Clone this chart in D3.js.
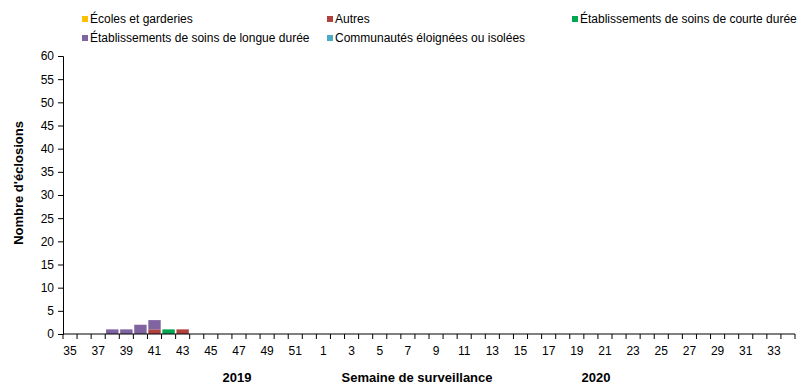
<!DOCTYPE html>
<html>
<head>
<meta charset="utf-8">
<script src="https://cdn.jsdelivr.net/npm/d3@7"></script>
<style>
  body { margin: 0; background: #fff; }
  text { font-family: "Liberation Sans", Arial, sans-serif; fill: #000; }
</style>
</head>
<body>
<div class="chart"></div>
<script>
// surveillance weeks: 2019 wk 35-52, then 2020 wk 1-34
var weeks = [];
for (var w = 35; w <= 52; w++) weeks.push("2019-" + w);
for (var w = 1; w <= 34; w++) weeks.push("2020-" + w);

var seriesNames = ["Écoles et garderies", "Autres", "Établissements de soins de courte durée",
                   "Établissements de soins de longue durée", "Communautés éloignées ou isolées"];
var seriesColors = ["#FFC000", "#B0413E", "#00A650", "#8064A2", "#4BACC6"];

// outbreak counts by week (only non-zero weeks)
var ecoles = {};
var autres = {"2019-41": 1, "2019-43": 1};
var courte = {"2019-42": 1};
var longue = {"2019-38": 1, "2019-39": 1, "2019-40": 2, "2019-41": 2};
var communautes = {};

var yTicks = [0, 5, 10, 15, 20, 25, 30, 35, 40, 45, 50, 55, 60];

var width = 805, height = 386;
var margin = {top: 56, right: 10, bottom: 52, left: 63};

var table = weeks.map(function(k) {
  return {
    week: k,
    s0: ecoles[k] || 0,
    s1: autres[k] || 0,
    s2: courte[k] || 0,
    s3: longue[k] || 0,
    s4: communautes[k] || 0
  };
});

var svg = d3.select(".chart").append("svg")
  .attr("width", width)
  .attr("height", height);

var x = d3.scaleBand()
  .domain(weeks)
  .range([margin.left, width - margin.right])
  .paddingInner(0.12)
  .paddingOuter(0.06);

var y = d3.scaleLinear()
  .domain([0, 60])
  .range([height - margin.bottom, margin.top]);

var stack = d3.stack().keys(["s0", "s1", "s2", "s3", "s4"]);
var layers = stack(table);

svg.append("g")
  .selectAll("g")
  .data(layers)
  .enter().append("g")
  .attr("fill", function(d, i) { return seriesColors[i]; })
  .selectAll("rect")
  .data(function(d) { return d.filter(function(p) { return p[1] > p[0]; }); })
  .enter().append("rect")
  .attr("x", function(d) { return x(d.data.week); })
  .attr("y", function(d) { return y(d[1]); })
  .attr("width", x.bandwidth())
  .attr("height", function(d) { return y(d[0]) - y(d[1]); });

// y axis
var yAxis = svg.append("g")
  .attr("transform", "translate(" + margin.left + ",0)")
  .call(d3.axisLeft(y).tickValues(yTicks).tickSize(5).tickPadding(4));
yAxis.select(".domain").attr("stroke", "#000");
yAxis.selectAll("text").style("font-size", "12px").attr("font-family", "Liberation Sans, Arial");

// x axis: ticks at band boundaries, labels every other week
var x0 = x.range()[0], x1 = x.range()[1];
var xAxis = svg.append("g");
xAxis.append("line")
  .attr("x1", x0).attr("x2", x1)
  .attr("y1", y(0)).attr("y2", y(0))
  .attr("stroke", "#000");
xAxis.selectAll(".tk")
  .data(d3.range(weeks.length + 1))
  .enter().append("line")
  .attr("x1", function(i) { return x0 + i * (x1 - x0) / weeks.length; })
  .attr("x2", function(i) { return x0 + i * (x1 - x0) / weeks.length; })
  .attr("y1", y(0)).attr("y2", y(0) + 5)
  .attr("stroke", "#000");
xAxis.selectAll(".lbl")
  .data(weeks.filter(function(d, i) { return i % 2 === 0; }))
  .enter().append("text")
  .attr("x", function(d) { return x(d) + x.bandwidth() / 2; })
  .attr("y", y(0) + 21)
  .attr("text-anchor", "middle")
  .style("font-size", "12px")
  .text(function(d) { return d.split("-")[1]; });

// axis titles
svg.append("text")
  .attr("transform", "translate(23,183) rotate(-90)")
  .attr("text-anchor", "middle")
  .style("font-size", "13px")
  .style("font-weight", "bold")
  .text("Nombre d'éclosions");

svg.append("text").attr("x", 237).attr("y", 382).attr("text-anchor", "middle")
  .style("font-size", "13px").style("font-weight", "bold").text("2019");
svg.append("text").attr("x", 417).attr("y", 382).attr("text-anchor", "middle")
  .style("font-size", "13px").style("font-weight", "bold").text("Semaine de surveillance");
svg.append("text").attr("x", 596).attr("y", 382).attr("text-anchor", "middle")
  .style("font-size", "13px").style("font-weight", "bold").text("2020");

// legend
var legendPos = [[82, 19], [327, 19], [572, 19], [82, 38], [327, 38]];
var legend = svg.append("g")
  .selectAll("g")
  .data(seriesNames)
  .enter().append("g")
  .attr("transform", function(d, i) { return "translate(" + legendPos[i][0] + "," + legendPos[i][1] + ")"; });
legend.append("rect")
  .attr("x", 0).attr("y", -3)
  .attr("width", 6).attr("height", 6)
  .attr("fill", function(d, i) { return seriesColors[i]; });
legend.append("text")
  .attr("x", 8).attr("y", 0)
  .attr("dy", "0.35em")
  .style("font-size", "12px")
  .text(function(d) { return d; });
</script>
</body>
</html>
